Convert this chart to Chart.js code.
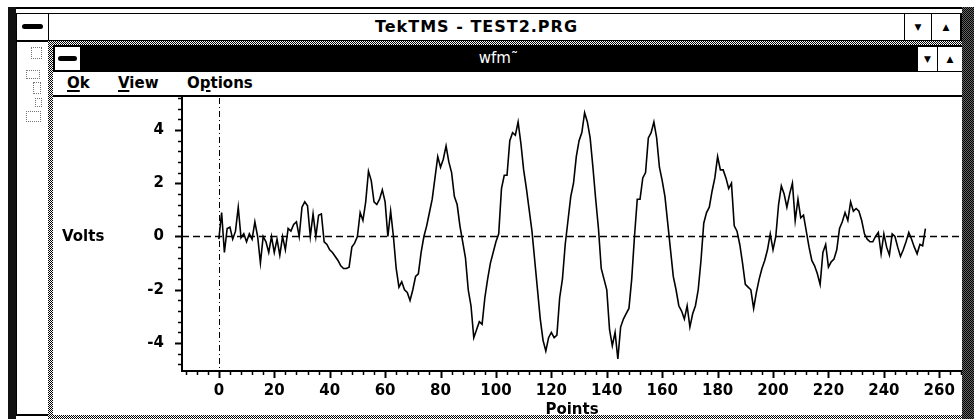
<!DOCTYPE html>
<html lang="en">
  <head>
    <meta charset="UTF-8" />
    <title>TekTMS - TEST2.PRG</title>
    <script src="https://cdn.jsdelivr.net/npm/chart.js@4"></script>
    <style>
      * {
        margin: 0;
        padding: 0;
        box-sizing: border-box;
      }
      body {
        width: 974px;
        height: 419px;
        overflow: hidden;
        position: relative;
        background: #fff;
        color: #000;
        font-family: "DejaVu Sans", sans-serif;
      }
      .abs {
        position: absolute;
      }
      .dither {
        background: repeating-conic-gradient(#000 0 25%, #fff 0 50%) 0 0 / 2px 2px;
      }
      .dark-dither {
        background: repeating-conic-gradient(#000 0 25%, #666 0 50%) 0 0 / 2px 2px;
      }
      .sysbar {
        position: absolute;
        height: 5px;
        background: #000;
        border-radius: 3px;
      }
      .btn {
        position: absolute;
        background: #fff;
        border-left: 1px solid #000;
        font-size: 9px;
        text-align: center;
      }
      .menu span {
        position: absolute;
        top: 2px;
        font-weight: bold;
        font-size: 15px;
        line-height: 18px;
      }
      .menu u {
        text-decoration-thickness: 2px;
        text-underline-offset: 2px;
      }
      .icon {
        position: absolute;
        border: 1px dotted #777;
      }
    </style>
  </head>
  <body>
    <!-- outer TekTMS frame -->
    <div class="abs" style="left: 8px; top: 7px; width: 966px; height: 2px; background: #000"></div>
    <div class="abs" style="left: 8px; top: 7px; width: 8px; height: 412px; background: #111"></div>
    <div class="abs dark-dither" style="left: 962px; top: 7px; width: 12px; height: 412px"></div>

    <div class="abs" style="left: 16px; top: 13px; width: 946px; height: 29px; border-top: 1px solid #000; border-bottom: 2px solid #000; border-left: 1px solid #000; border-right: 2px solid #000; background: #fff">
      <div class="abs" style="left: 0; top: 0; width: 32px; height: 26px; border-right: 1px solid #000">
        <div class="sysbar" style="left: 5px; top: 10px; width: 21px"></div>
      </div>
      <div class="abs" style="left: 32px; top: 0; width: 855px; height: 26px; line-height: 26px; text-align: center; font-weight: bold; font-size: 16px; letter-spacing: 1px">TekTMS - TEST2.PRG</div>
      <div class="btn" style="left: 887px; top: 0; width: 27px; height: 26px; line-height: 26px">&#9660;</div>
      <div class="btn" style="left: 914px; top: 0; width: 29px; height: 26px; line-height: 26px">&#9650;</div>
    </div>

    <!-- left strip with partly hidden icons -->
    <div class="abs" style="left: 16px; top: 42px; width: 32px; height: 374px; border-left: 1px solid #000; border-bottom: 2px solid #000; background: #fff">
      <div class="icon" style="left: 14px; top: 5px; width: 11px; height: 12px"></div>
      <div class="icon" style="left: 9px; top: 28px; width: 14px; height: 9px"></div>
      <div class="icon" style="left: 16px; top: 40px; width: 8px; height: 12px"></div>
      <div class="icon" style="left: 18px; top: 56px; width: 7px; height: 9px"></div>
      <div class="icon" style="left: 9px; top: 69px; width: 15px; height: 11px"></div>
    </div>

    <!-- wfm child window -->
    <div class="abs dither" style="left: 48px; top: 41px; width: 914px; height: 4px"></div>
    <div class="abs dither" style="left: 48px; top: 41px; width: 5px; height: 378px"></div>
    <div class="abs dither" style="left: 48px; top: 415px; width: 914px; height: 4px"></div>

    <div class="abs" style="left: 53px; top: 45px; width: 909px; height: 27px; background: #000">
      <div class="abs" style="left: 2px; top: 2px; width: 25px; height: 23px; background: #fff">
        <div class="sysbar" style="left: 3px; top: 9px; width: 19px"></div>
      </div>
      <div class="abs" style="left: 27px; top: 0; width: 837px; height: 27px; line-height: 26px; text-align: center; color: #fff; font-size: 15px">wfm&#732;</div>
      <div class="btn" style="left: 864px; top: 2px; width: 20px; height: 24px; line-height: 24px">&#9660;</div>
      <div class="btn" style="left: 884px; top: 2px; width: 25px; height: 24px; line-height: 24px">&#9650;</div>
    </div>

    <div class="abs menu" style="left: 53px; top: 72px; width: 909px; height: 23px; background: #fff">
      <span style="left: 14px"><u>O</u>k</span>
      <span style="left: 65px"><u>V</u>iew</span>
      <span style="left: 134px">O<u>p</u>tions</span>
    </div>
    <div class="abs" style="left: 53px; top: 95px; width: 909px; height: 2px; background: #000"></div>

    <div class="abs" style="left: 53px; top: 97px; width: 909px; height: 318px; background: #fff">
      <canvas id="wfmChart" width="909" height="318"></canvas>
      <div class="abs" style="left: 9px; top: 130px; font-weight: bold; font-size: 15px; line-height: 18px">Volts</div>
    </div>

    <script>
      // waveform samples, one per point (0..255)
      const volts = [
        -0.1, 0.9, -0.6, 0.3, 0.35, -0.1, 0.2, 1.1, -0.05, 0.1,
        -0.2, 0.1, -0.1, 0.55, 0.0, -1.0, 0.0, -0.2, -0.6, 0.0,
        -0.6, -0.1, -0.7, 0.0, -0.5, 0.3, 0.2, 0.45, 0.55, 0.0,
        1.1, 1.3, 1.15, 0.0, 0.85, 0.0, 0.8, 0.85, -0.2, -0.3,
        -0.5, -0.6, -0.75, -0.9, -1.1, -1.2, -1.2, -1.15, -0.4, -0.25,
        0.0, 0.9, 0.6, 1.3, 2.45, 2.1, 1.3, 1.2, 1.4, 1.75,
        1.3, 0.0, 0.95, 0.0, -1.2, -1.9, -1.7, -2.0, -2.1, -2.4,
        -2.0, -1.5, -1.4, -0.6, 0.0, 0.4, 0.9, 1.4, 2.2, 3.0,
        2.6, 2.9, 3.4, 2.8, 2.4, 1.5, 1.2, 0.4, -0.2, -0.8,
        -2.0, -2.6, -3.8, -3.5, -3.2, -3.3, -2.3, -1.6, -1.0, -0.6,
        -0.2, 0.1, 1.8, 2.3, 2.3, 3.6, 3.9, 3.8, 4.3, 3.5,
        2.5, 1.8, 1.0, 0.2, -0.9, -2.0, -3.1, -3.9, -4.3, -3.8,
        -3.6, -3.8, -3.7, -2.3, -1.6, -0.3, 0.6, 1.5, 2.0, 3.0,
        3.6, 3.9, 4.65, 4.3, 3.7, 2.6, 1.4, 0.3, -1.2, -1.6,
        -2.0, -3.5, -4.1, -3.6, -4.6, -3.4, -3.1, -2.9, -2.7, -1.6,
        0.0, 1.4, 1.4, 2.2, 2.4, 3.7, 3.9, 4.3, 3.7, 2.6,
        2.1, 1.5, 0.5, -0.5, -1.5, -2.0, -2.6, -2.8, -3.1, -2.6,
        -3.4, -2.9, -2.6, -2.0, -0.9, 0.5, 0.9, 1.1, 1.7, 2.2,
        3.0, 2.5, 2.5, 2.2, 1.8, 2.0, 0.4, 0.2, -0.3, -1.0,
        -1.8, -1.9, -2.0, -2.7, -2.1, -1.6, -1.2, -0.9, -0.5, 0.1,
        -0.5, 0.0, 1.2, 1.9, 1.6, 1.1, 1.6, 2.0, 0.6, 1.4,
        0.7, 0.8, 0.2, -0.4, -0.9, -1.1, -1.4, -1.8, -0.6, -0.3,
        -1.15, -0.95, -0.85, -0.5, 0.3, 0.55, 0.9, 0.6, 1.3, 0.95,
        1.05, 0.95, 0.6, 0.1, -0.1, -0.2, -0.2, 0.0, 0.15, -0.65,
        0.1, -0.4, -0.7, 0.1, 0.0, -0.4, -0.75, -0.5, -0.2, 0.15,
        -0.1, -0.4, -0.65, -0.3, -0.35, 0.3,
      ];
      const xTickLabels = [0, 20, 40, 60, 80, 100, 120, 140, 160, 180, 200, 220, 240, 260];
      const yTickLabels = [-4, -2, 0, 2, 4];
      const xRange = [-13.3, 268.2];
      const yRange = [-5.05, 5.2];

      const tickFont = { family: "DejaVu Sans", weight: "bold", size: 15 };

      // dashed zero lines (dash for 0 V, dash-dot for point 0)
      const zeroLines = {
        id: "zeroLines",
        beforeDatasetsDraw(chart) {
          const { ctx, chartArea, scales } = chart;
          const y0 = Math.round(scales.y.getPixelForValue(0)) + 0.5;
          const x0 = Math.round(scales.x.getPixelForValue(0)) + 0.5;
          ctx.save();
          ctx.strokeStyle = "#000";
          ctx.lineWidth = 1.6;
          ctx.setLineDash([7, 4]);
          ctx.beginPath();
          ctx.moveTo(chartArea.left, y0);
          ctx.lineTo(chartArea.right, y0);
          ctx.stroke();
          ctx.lineWidth = 1;
          ctx.setLineDash([6, 3, 1, 3]);
          ctx.beginPath();
          ctx.moveTo(x0, chartArea.top);
          ctx.lineTo(x0, chartArea.bottom);
          ctx.stroke();
          ctx.restore();
        },
      };

      // long ticks at labelled values, short ones between
      const tickMarks = {
        id: "tickMarks",
        afterDraw(chart) {
          const { ctx, chartArea, scales } = chart;
          const { x, y } = scales;
          ctx.save();
          ctx.strokeStyle = "#000";
          x.ticks.forEach((t) => {
            if (t.value < x.min || t.value > x.max) return;
            const major = xTickLabels.includes(t.value);
            const px = Math.round(x.getPixelForValue(t.value)) + 0.5;
            ctx.lineWidth = major ? 2 : 1.5;
            ctx.beginPath();
            ctx.moveTo(px, chartArea.bottom);
            ctx.lineTo(px, chartArea.bottom + (major ? 7 : 4));
            ctx.stroke();
          });
          y.ticks.forEach((t) => {
            if (t.value < y.min || t.value > y.max) return;
            const major = yTickLabels.includes(t.value);
            const py = Math.round(y.getPixelForValue(t.value)) + 0.5;
            ctx.lineWidth = major ? 2 : 1.5;
            ctx.beginPath();
            ctx.moveTo(chartArea.left, py);
            ctx.lineTo(chartArea.left - (major ? 7 : 4), py);
            ctx.stroke();
          });
          ctx.restore();
        },
      };

      const ctx = document.getElementById("wfmChart").getContext("2d");
      new Chart(ctx, {
        type: "line",
        data: {
          datasets: [
            {
              label: "wfm",
              data: volts.map((v, i) => ({ x: i, y: v })),
              borderColor: "#000",
              borderWidth: 1.6,
              pointRadius: 0,
              tension: 0,
            },
          ],
        },
        options: {
          responsive: false,
          animation: false,
          devicePixelRatio: 1,
          layout: { padding: { top: 1, right: 0, bottom: 0, left: 0 } },
          plugins: {
            legend: { display: false },
            tooltip: { enabled: false },
          },
          scales: {
            x: {
              type: "linear",
              min: xRange[0],
              max: xRange[1],
              grid: { display: false },
              border: { display: true, color: "#000", width: 2 },
              afterFit: (scale) => {
                scale.height = 44;
                scale.paddingLeft = 0;
                scale.paddingRight = 0;
              },
              ticks: {
                stepSize: 4,
                includeBounds: false,
                autoSkip: false,
                maxRotation: 0,
                padding: 3,
                color: "#000",
                font: tickFont,
                callback: (value) => (xTickLabels.includes(value) ? String(value) : ""),
              },
              title: {
                display: true,
                text: "Points",
                color: "#000",
                font: { family: "DejaVu Sans", weight: "bold", size: 15, lineHeight: 0.7 },
                padding: { top: 0, bottom: 0 },
              },
            },
            y: {
              min: yRange[0],
              max: yRange[1],
              grid: { display: false },
              border: { display: true, color: "#000", width: 2 },
              afterFit: (scale) => {
                scale.width = 129;
                scale.paddingTop = 0;
                scale.paddingBottom = 0;
              },
              ticks: {
                stepSize: 0.4,
                includeBounds: false,
                autoSkip: false,
                padding: 10,
                color: "#000",
                font: tickFont,
                callback: (value) => (yTickLabels.includes(value) ? String(value) : ""),
              },
            },
          },
        },
        plugins: [zeroLines, tickMarks],
      });
    </script>
  </body>
</html>
